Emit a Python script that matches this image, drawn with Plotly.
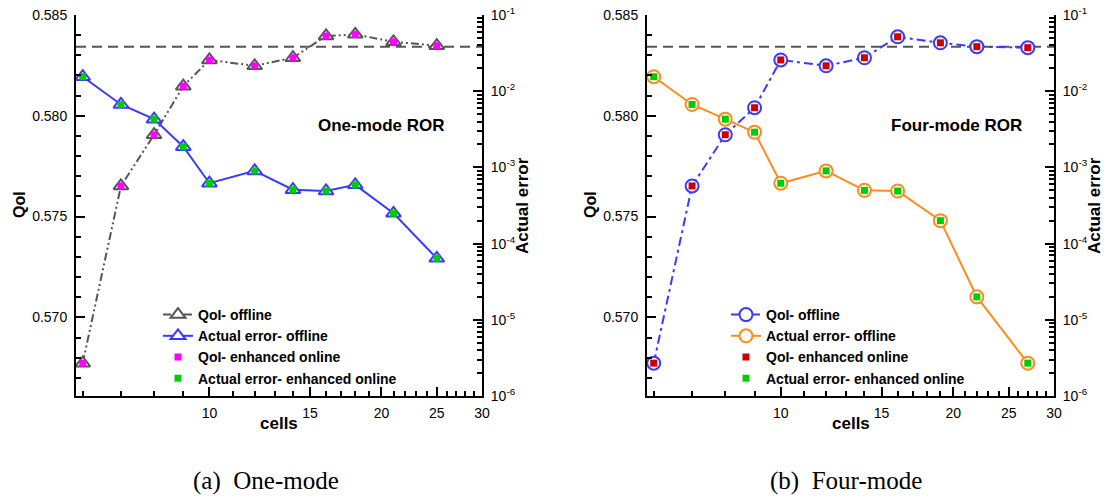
import numpy as np
import plotly.graph_objects as go

# ---------------------------------------------------------------- data
# number of cells used in each run
cells_one_mode = [6, 7, 8, 9, 10, 12, 14, 16, 18, 21, 25]
cells_four_mode = [6, 7, 8, 9, 10, 12, 14, 16, 19, 22, 27]

# one-mode ROR
qoi_one_offline = [0.56773, 0.57652, 0.57906, 0.58147, 0.58277, 0.58248,
                   0.58288, 0.58396, 0.58404, 0.58367, 0.58348]
qoi_one_online = [0.56773, 0.57652, 0.57906, 0.58147, 0.58277, 0.58248,
                  0.58288, 0.58396, 0.58404, 0.58367, 0.58348]
err_one_offline = [1.55e-2, 6.7e-3, 4.3e-3, 1.87e-3, 6.2e-4, 9.0e-4,
                   5.1e-4, 4.9e-4, 5.9e-4, 2.5e-4, 6.4e-5]
err_one_online = [1.55e-2, 6.7e-3, 4.3e-3, 1.87e-3, 6.2e-4, 9.0e-4,
                  5.1e-4, 4.9e-4, 5.9e-4, 2.5e-4, 6.4e-5]

# four-mode ROR
qoi_four_offline = [0.56773, 0.57652, 0.57906, 0.58040, 0.58277, 0.58248,
                    0.58288, 0.58392, 0.58362, 0.58343, 0.58338]
qoi_four_online = [0.56773, 0.57652, 0.57906, 0.58040, 0.58277, 0.58248,
                   0.58288, 0.58392, 0.58362, 0.58343, 0.58338]
err_four_offline = [1.55e-2, 6.7e-3, 4.3e-3, 2.9e-3, 6.2e-4, 9.0e-4,
                    5.0e-4, 4.9e-4, 2.0e-4, 2.0e-5, 2.7e-6]
err_four_online = [1.55e-2, 6.7e-3, 4.3e-3, 2.9e-3, 6.2e-4, 9.0e-4,
                   5.0e-4, 4.9e-4, 2.0e-4, 2.0e-5, 2.7e-6]

# converged (fine-mesh) QoI
qoi_reference = 0.58343

# axis extents and ticks
cells_range = [5.84, 30]
qoi_range = [0.5661, 0.585]
err_range = [1e-6, 1e-1]
cells_ticks = [10, 15, 20, 25, 30]
cells_minor = [6, 7, 8, 9, 11, 12, 13, 14, 16, 17, 18, 19,
               21, 22, 23, 24, 26, 27, 28, 29]
qoi_ticks = [0.570, 0.575, 0.580, 0.585]
err_exponents = [-6, -5, -4, -3, -2, -1]

# ---------------------------------------------------------------- style
W, H = 1106, 498
SANS = "Liberation Sans, Arial, Helvetica, sans-serif"
SERIF = "Liberation Serif, Times New Roman, serif"
GRAY = "#555555"
BLUE = "#3a3aff"
ORANGE = "#ff8c1a"
MAGENTA = "#ff00ff"
GREEN = "#00cc00"
RED = "#cc0000"

panel_x = [(76, 482), (647, 1054)]
panel_y = (15, 396)


def px_x(v):
    return v / W


def px_y(v):
    return 1 - v / H


y_dom = [px_y(panel_y[1]), px_y(panel_y[0])]

tick_font = dict(family=SANS, size=14, color="black")

err_minor = [k * 10.0 ** e for e in range(-6, -1) for k in range(2, 10)]
qoi_minor = [round(0.566 + 0.001 * i, 3) for i in range(0, 20)]
qoi_minor = [v for v in qoi_minor if v not in qoi_ticks]


def cells_axis(dom, anchor):
    return dict(
        type="log", domain=dom, anchor=anchor,
        range=[np.log10(cells_range[0]), np.log10(cells_range[1])],
        tickmode="array", tickvals=cells_ticks,
        ticktext=[str(v) for v in cells_ticks],
        ticks="inside", ticklen=9, tickwidth=2, tickcolor="black",
        minor=dict(tickmode="array", tickvals=cells_minor, ticks="inside",
                   ticklen=5, tickwidth=1.5, tickcolor="black", showgrid=False),
        showline=True, linewidth=2, linecolor="black", mirror=False,
        showgrid=False, zeroline=False, tickfont=tick_font,
        ticklabelstandoff=3, automargin=False,
    )


def qoi_axis(anchor):
    return dict(
        domain=y_dom, anchor=anchor, range=qoi_range,
        tickmode="array", tickvals=qoi_ticks,
        ticktext=[f"{v:.3f}" for v in qoi_ticks],
        ticks="inside", ticklen=9, tickwidth=2, tickcolor="black",
        minor=dict(tickmode="array", tickvals=qoi_minor, ticks="inside",
                   ticklen=5, tickwidth=1.5, tickcolor="black", showgrid=False),
        showline=True, linewidth=2, linecolor="black",
        showgrid=False, zeroline=False, tickfont=tick_font,
        ticklabelstandoff=4, automargin=False,
    )


def err_axis(anchor, overlay):
    return dict(
        type="log", domain=y_dom, anchor=anchor, overlaying=overlay,
        side="right",
        range=[np.log10(err_range[0]), np.log10(err_range[1])],
        tickmode="array", tickvals=[10.0 ** e for e in err_exponents],
        ticktext=[f"10<sup>{e}</sup>" for e in err_exponents],
        ticks="inside", ticklen=9, tickwidth=2, tickcolor="black",
        minor=dict(tickmode="array", tickvals=err_minor, ticks="inside",
                   ticklen=5, tickwidth=1.5, tickcolor="black", showgrid=False),
        showline=True, linewidth=2, linecolor="black",
        showgrid=False, zeroline=False, tickfont=tick_font,
        ticklabelstandoff=4, automargin=False,
    )


fig = go.Figure()


def add_panel(cells, qoi_off, qoi_on, err_off, err_on, xa, ya, ya2, legend,
              qoi_color, qoi_dash, qoi_symbol, err_color, err_symbol,
              on_color, size):
    fig.add_trace(go.Scatter(
        x=cells, y=qoi_off, xaxis=xa, yaxis=ya, mode="lines+markers",
        name="QoI- offline", legend=legend,
        line=dict(color=qoi_color, width=2, dash=qoi_dash),
        marker=dict(symbol=qoi_symbol, size=size, color="white",
                    line=dict(color=qoi_color, width=2)),
    ))
    fig.add_trace(go.Scatter(
        x=cells, y=err_off, xaxis=xa, yaxis=ya2, mode="lines+markers",
        name="Actual error- offline", legend=legend,
        line=dict(color=err_color, width=2),
        marker=dict(symbol=err_symbol, size=size, color="white",
                    line=dict(color=err_color, width=2)),
    ))
    fig.add_trace(go.Scatter(
        x=cells, y=qoi_on, xaxis=xa, yaxis=ya, mode="markers",
        name="QoI- enhanced online", legend=legend,
        marker=dict(symbol="square", size=7, color=on_color),
    ))
    fig.add_trace(go.Scatter(
        x=cells, y=err_on, xaxis=xa, yaxis=ya2, mode="markers",
        name="Actual error- enhanced online", legend=legend,
        marker=dict(symbol="square", size=7, color=GREEN),
    ))
    fig.add_shape(type="line", xref=f"{xa} domain", x0=0, x1=1,
                  yref=ya, y0=qoi_reference, y1=qoi_reference,
                  line=dict(color=GRAY, width=2, dash="10px,6px"),
                  layer="below")


add_panel(cells_one_mode, qoi_one_offline, qoi_one_online,
          err_one_offline, err_one_online, "x", "y", "y2", "legend",
          GRAY, "8px,3px,2px,3px,2px,3px", "triangle-up",
          BLUE, "triangle-up", MAGENTA, 13)
add_panel(cells_four_mode, qoi_four_offline, qoi_four_online,
          err_four_offline, err_four_online, "x2", "y3", "y4", "legend2",
          BLUE, "9px,4px,3px,4px", "circle",
          ORANGE, "circle", RED, 13)

legend_common = dict(
    xanchor="left", yanchor="top", bgcolor="rgba(0,0,0,0)", borderwidth=0,
    font=dict(family=SANS, size=14, color="black", weight="bold"),
    itemsizing="trace", tracegroupgap=0,
)

annotations = []


def text(x, y, s, size, family=SANS, angle=0):
    annotations.append(dict(
        x=px_x(x), y=px_y(y), xref="paper", yref="paper", text=s,
        showarrow=False, xanchor="center", yanchor="middle",
        textangle=angle, font=dict(family=family, size=size, color="black"),
    ))


for (x0, x1), label, lx in zip(panel_x, ["One-mode ROR", "Four-mode ROR"],
                               [381, 956]):
    text(x0 - 57, 205, "<b>QoI</b>", 16, angle=-90)
    text(x1 + 40, 206, "<b>Actual error</b>", 17, angle=-90)
    text((x0 + x1) / 2, 423, "<b>cells</b>", 17)
    text(lx, 125, f"<b>{label}</b>", 17)

text(266, 481, "(a)\u00a0 One-mode", 25, family=SERIF)
text(846, 481, "(b)\u00a0 Four-mode", 25, family=SERIF)

fig.update_layout(
    width=W, height=H, template="none",
    margin=dict(l=0, r=0, t=0, b=0, pad=0),
    paper_bgcolor="white", plot_bgcolor="rgba(0,0,0,0)",
    font=dict(family=SANS, color="black"),
    xaxis=cells_axis([px_x(panel_x[0][0]), px_x(panel_x[0][1])], "y"),
    yaxis=qoi_axis("x"),
    yaxis2=err_axis("x", "y"),
    xaxis2=cells_axis([px_x(panel_x[1][0]), px_x(panel_x[1][1])], "y3"),
    yaxis3=qoi_axis("x2"),
    yaxis4=err_axis("x2", "y3"),
    legend=dict(x=px_x(158), y=px_y(299), **legend_common),
    legend2=dict(x=px_x(726), y=px_y(299), **legend_common),
    annotations=annotations,
    showlegend=True,
)

fig.write_html("out.html")
